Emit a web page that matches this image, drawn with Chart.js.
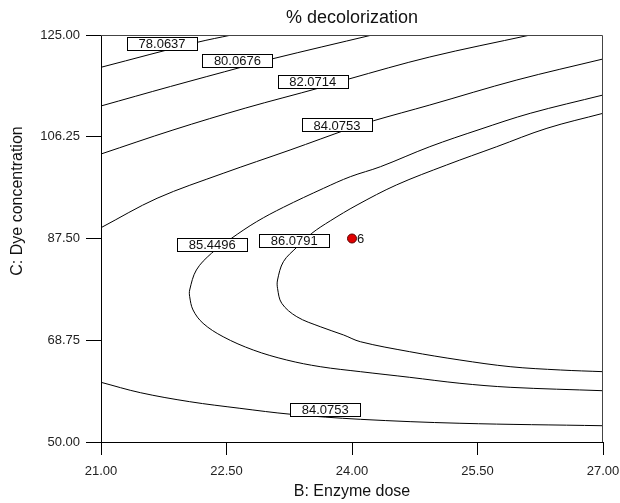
<!DOCTYPE html>
<html>
<head>
<meta charset="utf-8">
<script src="https://cdn.jsdelivr.net/npm/chart.js@4.4.1/dist/chart.umd.min.js"></script>
<style>
html, body { margin: 0; padding: 0; background: #fff; }
</style>
</head>
<body>
<canvas id="chart-contour" width="620" height="503"></canvas>
<script>
const xTicks = [21, 22.5, 24, 25.5, 27];
const yTicks = [50, 68.75, 87.5, 106.25, 125];

// contour lines, [B, C] pairs
const contour78 = [[21, 119.05], [22.15, 123.65], [22.56, 125]];
const contour80 = [[21, 111.92], [21.83, 115.51], [22.70, 119.16], [23.04, 120.58], [24.24, 125]];
const contour82 = [[21, 103.07], [21.86, 107.49], [22.73, 111.55], [23.62, 115.29], [23.95, 116.84], [24.93, 120.95], [26.13, 125]];
const contour84top = [[21, 89.49], [21.67, 94.91], [22.46, 99.51], [23.26, 103.81], [23.98, 107.8], [24.26, 109.21], [24.93, 112.10], [25.97, 116.71], [27, 120.58]];
const contour85 = [[27, 113.94], [26.13, 110.57], [25.53, 107.62], [24.93, 104.42], [24.34, 100.73], [23.98, 98.89], [23.66, 96.75], [23.18, 93.25], [22.86, 90.60], [22.56, 87.54], [22.32, 84.77], [22.14, 81.70], [22.06, 78.01], [22.06, 76.78], [22.10, 74.33], [22.22, 71.87], [22.46, 69.40], [22.82, 66.95], [23.22, 65.11], [23.62, 63.88], [24.10, 62.96], [24.69, 61.92], [25.29, 60.82], [25.89, 60.08], [27, 59.45]];
const contour86 = [[27, 110.57], [26.33, 107.81], [25.73, 104.42], [25.13, 101.04], [24.53, 97.36], [24.06, 93.67], [23.74, 90.75], [23.52, 88.46], [23.34, 85.88], [23.18, 83.23], [23.11, 79.85], [23.11, 78.32], [23.16, 75.56], [23.34, 73.09], [23.62, 71.25], [23.90, 69.72], [24.10, 68.48], [24.69, 66.64], [25.29, 65.11], [25.89, 63.88], [26.49, 63.27], [27, 62.96]];
const contour84bottom = [[21, 61.00], [21.47, 59.09], [22.06, 57.43], [22.66, 56.21], [23.27, 55.11], [24.10, 54.18], [25.29, 53.45], [27, 53.00]];

const labelText = ['78.0637', '80.0676', '82.0714', '84.0753', '85.4496', '86.0791', '84.0753'];
const labelX = [21.73, 22.63, 23.53, 23.82, 22.33, 23.31, 23.68];
const labelY = [123.43, 120.34, 116.39, 108.42, 86.36, 87.09, 56.03];

const designX = [24];
const designY = [87.5];
const designLabel = ['6'];

const fontFamily = '"Liberation Sans", Arial, sans-serif';

function toPoints(arr) {
    return arr.map(p => ({x: p[0], y: p[1]}));
}

const contours = [contour78, contour80, contour82, contour84top, contour85, contour86, contour84bottom];

var contourDatasets = contours.map(c => ({
    data: toPoints(c),
    showLine: true,
    borderColor: '#000',
    borderWidth: 1,
    pointRadius: 0,
    tension: 0.35,
    fill: false
}));

contourDatasets.push({
    data: designX.map((v, i) => ({x: v, y: designY[i]})),
    showLine: false,
    pointRadius: 4.5,
    backgroundColor: '#e00000',
    borderColor: '#5a0000',
    borderWidth: 1
});

const overlayPlugin = {
    id: 'overlay',
    afterDatasetsDraw(chart) {
        const {ctx, chartArea, scales: {x, y}} = chart;
        ctx.save();
        // contour labels
        ctx.font = '13px ' + fontFamily;
        ctx.textAlign = 'center';
        ctx.textBaseline = 'middle';
        labelText.forEach((t, i) => {
            const px = x.getPixelForValue(labelX[i]);
            const py = y.getPixelForValue(labelY[i]);
            const w = 70, h = 13;
            const bx = Math.round(px - w / 2) + 0.5;
            const by = Math.round(py - h / 2) + 0.5;
            ctx.fillStyle = '#fff';
            ctx.fillRect(bx, by, w, h);
            ctx.strokeStyle = '#000';
            ctx.lineWidth = 1;
            ctx.strokeRect(bx, by, w, h);
            ctx.fillStyle = '#111';
            ctx.fillText(t, px, py + 1);
        });
        // design point label
        ctx.textAlign = 'left';
        designLabel.forEach((t, i) => {
            ctx.fillText(t, x.getPixelForValue(designX[i]) + 5, y.getPixelForValue(designY[i]) + 1);
        });
        // top and right frame lines
        const l = Math.round(chartArea.left), t = Math.round(chartArea.top) + 0.5;
        const r = Math.round(chartArea.right) - 0.5, b = Math.round(chartArea.bottom);
        ctx.strokeStyle = '#444';
        ctx.beginPath();
        ctx.moveTo(l, t);
        ctx.lineTo(r, t);
        ctx.lineTo(r, b);
        ctx.stroke();
        // titles
        ctx.fillStyle = '#111';
        ctx.textAlign = 'center';
        ctx.font = '18px ' + fontFamily;
        ctx.fillText('% decolorization', (chartArea.left + chartArea.right) / 2, 18);
        ctx.font = '16px ' + fontFamily;
        ctx.translate(18, 201);
        ctx.rotate(-Math.PI / 2);
        ctx.fillText('C: Dye concentration', 0, 0);
        ctx.restore();
    }
};

const configContour = {
    type: 'scatter',
    data: {datasets: contourDatasets},
    options: {
        responsive: false,
        animation: false,
        devicePixelRatio: 1,
        layout: {padding: {top: 35, right: 17, left: 0, bottom: 0}},
        plugins: {
            legend: {display: false},
            tooltip: {enabled: false}
        },
        scales: {
            x: {
                type: 'linear',
                min: 21,
                max: 27,
                afterBuildTicks: s => { s.ticks = xTicks.map(v => ({value: v})); },
                afterFit: s => { s.height = 61; s.paddingLeft = 0; s.paddingRight = 0; },
                ticks: {
                    callback: v => Number(v).toFixed(2),
                    font: {size: 13, family: fontFamily},
                    color: '#222',
                    padding: 9,
                    maxRotation: 0,
                    autoSkip: false
                },
                grid: {drawOnChartArea: false, tickLength: 13, color: '#000'},
                border: {color: '#000'},
                title: {
                    display: true,
                    text: 'B: Enzyme dose',
                    font: {size: 16, family: fontFamily},
                    color: '#111',
                    padding: {top: 0, bottom: 2}
                }
            },
            y: {
                type: 'linear',
                min: 50,
                max: 125,
                afterBuildTicks: s => { s.ticks = yTicks.map(v => ({value: v})); },
                afterFit: s => { s.width = 101; s.paddingTop = 0; s.paddingBottom = 0; },
                ticks: {
                    callback: v => Number(v).toFixed(2),
                    font: {size: 13, family: fontFamily},
                    color: '#222',
                    padding: 6,
                    autoSkip: false
                },
                grid: {drawOnChartArea: false, tickLength: 15, color: '#000'},
                border: {color: '#000'}
            }
        }
    },
    plugins: [overlayPlugin]
};

var chartContour = new Chart(document.getElementById('chart-contour'), configContour);
</script>
</body>
</html>
